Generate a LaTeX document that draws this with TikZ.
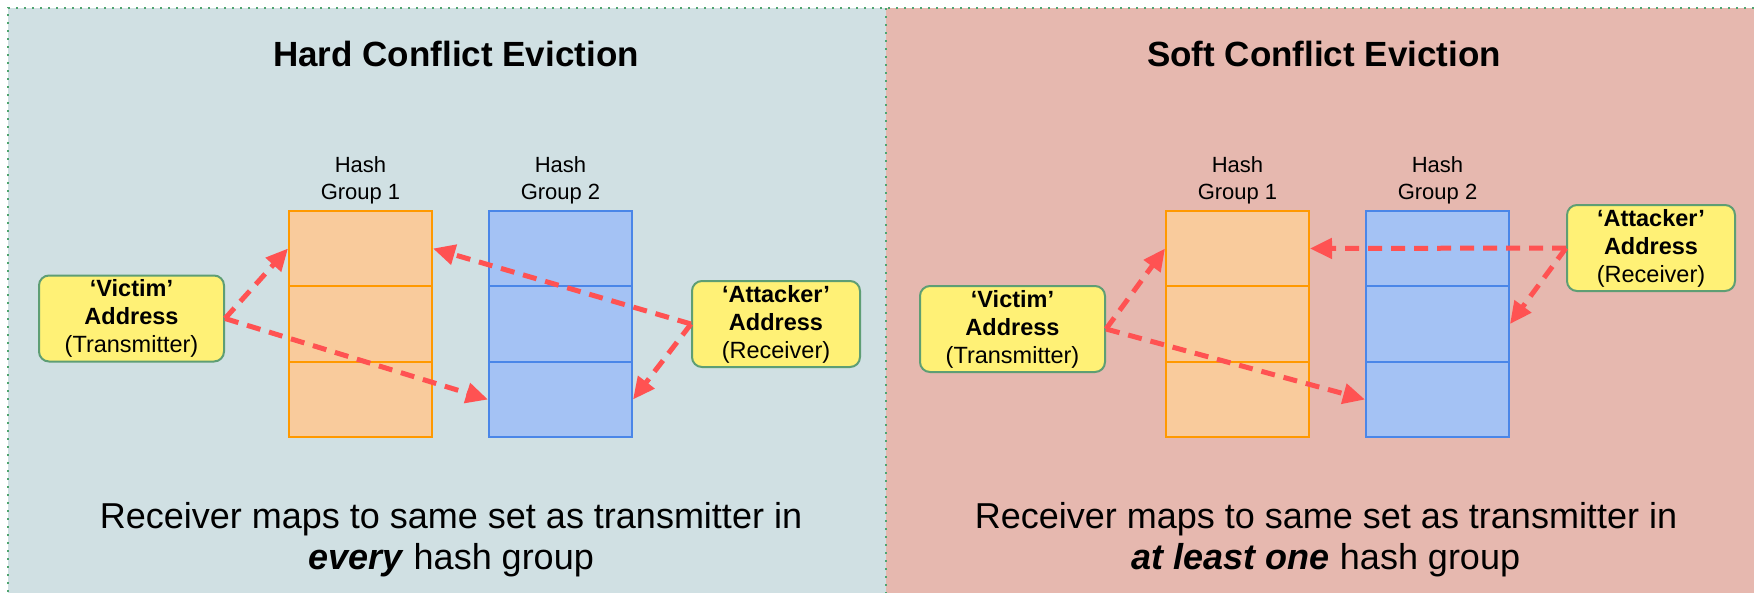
\documentclass[tikz,border=0pt]{standalone}
\usepackage{fontspec}
\setmainfont{Liberation Sans}
\usetikzlibrary{arrows.meta}

\definecolor{hardbg}{HTML}{D0E0E3}
\definecolor{softbg}{HTML}{E6B8AF}
\definecolor{grponefill}{HTML}{F9CB9C}
\definecolor{grponeline}{HTML}{FF9900}
\definecolor{grptwofill}{HTML}{A4C2F4}
\definecolor{grptwoline}{HTML}{4A86E8}
\definecolor{addrfill}{HTML}{FFF176}
\definecolor{addrline}{HTML}{5E9E74}
\definecolor{evictred}{HTML}{FF5252}
\definecolor{dotgreen}{HTML}{4FA470}

\begin{document}
\begin{tikzpicture}[x=1pt, y=-1pt,
    panel/.style={draw=dotgreen, line width=2pt, dash pattern=on 2pt off 6pt},
    slot/.style={rectangle, minimum width=143pt, minimum height=75.5pt, line width=2pt, inner sep=0pt},
    grpone/.style={slot, fill=grponefill, draw=grponeline},
    grptwo/.style={slot, fill=grptwofill, draw=grptwoline},
    addr/.style={rectangle, rounded corners=10pt, fill=addrfill, draw=addrline, line width=2pt,
        minimum height=86pt, inner sep=0pt, align=center, font=\fontsize{23.5}{28}\selectfont},
    hashlabel/.style={align=center, inner sep=0pt, font=\fontsize{22}{27}\selectfont},
    heading/.style={anchor=base, inner sep=0pt, font=\fontsize{35}{42}\selectfont\bfseries},
    caption/.style={align=center, inner sep=0pt, font=\fontsize{36}{41}\selectfont},
    link/.style={-{Triangle[length=22pt, width=20pt]}, draw=evictred, line width=5pt, dash pattern=on 14pt off 9pt}
]
\useasboundingbox (0,0) rectangle (1754,592);

% panels
\fill[hardbg] (8,8) rectangle (886,600);
\fill[softbg] (886,8) rectangle (1760,600);
\draw[panel] (8,600) -- (8,8) -- (1760,8);
\draw[panel] (886,8) -- (886,600);

% hard conflict eviction
\node[heading] (HT) at (456,66) {Hard Conflict Eviction};

\node[hashlabel] (HL1) at (360.5,180) {Hash\\Group 1};
\node[hashlabel] (HL2) at (560.5,180) {Hash\\Group 2};

\node[grpone] (H11) at (360.5,248.5) {};
\node[grpone] (H12) at (360.5,324) {};
\node[grpone] (H13) at (360.5,399.5) {};
\node[grptwo] (H21) at (560.5,248.5) {};
\node[grptwo] (H22) at (560.5,324) {};
\node[grptwo] (H23) at (560.5,399.5) {};

\node[addr, minimum width=185pt] (HV) at (131.5,318.5) {\textbf{‘Victim’}\\\textbf{Address}\\(Transmitter)};
\node[addr, minimum width=168pt] (HA) at (776,324) {\textbf{‘Attacker’}\\\textbf{Address}\\(Receiver)};

\draw[link] (HV.east) -- (H11.west);
\draw[link] (HV.east) -- (H23.west);
\draw[link] (HA.west) -- (H11.east);
\draw[link] (HA.west) -- (H23.east);

\node[caption] (HC) at (451,540) {Receiver maps to same set as transmitter in\\\textbf{\textit{every}} hash group};

% soft conflict eviction
\node[heading] (ST) at (1324,66) {Soft Conflict Eviction};

\node[hashlabel] (SL1) at (1237.5,180) {Hash\\Group 1};
\node[hashlabel] (SL2) at (1437.5,180) {Hash\\Group 2};

\node[grpone] (S11) at (1237.5,248.5) {};
\node[grpone] (S12) at (1237.5,324) {};
\node[grpone] (S13) at (1237.5,399.5) {};
\node[grptwo] (S21) at (1437.5,248.5) {};
\node[grptwo] (S22) at (1437.5,324) {};
\node[grptwo] (S23) at (1437.5,399.5) {};

\node[addr, minimum width=185pt] (SV) at (1012.5,329) {\textbf{‘Victim’}\\\textbf{Address}\\(Transmitter)};
\node[addr, minimum width=168pt] (SA) at (1651,248) {\textbf{‘Attacker’}\\\textbf{Address}\\(Receiver)};

\draw[link] (SV.east) -- (S11.west);
\draw[link] (SV.east) -- (S23.west);
\draw[link] (SA.west) -- (S11.east);
\draw[link] (SA.west) -- (S22.east);

\node[caption] (SC) at (1326,540) {Receiver maps to same set as transmitter in\\\textbf{\textit{at least one}} hash group};

\end{tikzpicture}
\end{document}
